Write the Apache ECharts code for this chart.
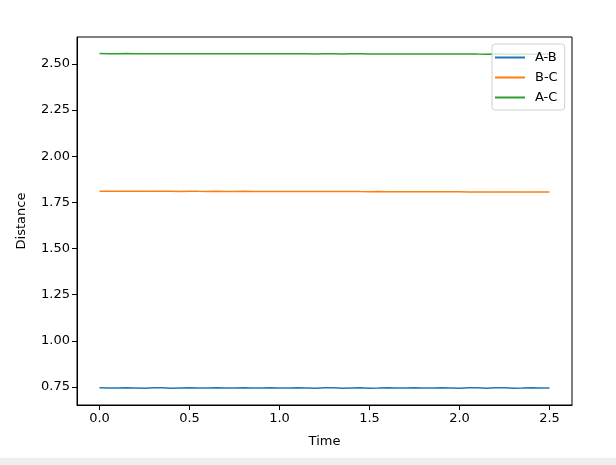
<!DOCTYPE html>
<html><head><meta charset="utf-8">
<script src="https://cdn.jsdelivr.net/npm/echarts@6/dist/echarts.min.js"></script>
<style>html,body{margin:0;padding:0;background:#eeeeee;}#c{width:616px;height:458px;background:#fff;}</style>
</head><body><div id="c"></div>
<script>
const times = [0.00,0.05,0.10,0.15,0.20,0.25,0.30,0.35,0.40,0.45,0.50,0.55,0.60,0.65,0.70,0.75,0.80,0.85,0.90,0.95,1.00,1.05,1.10,1.15,1.20,1.25,1.30,1.35,1.40,1.45,1.50,1.55,1.60,1.65,1.70,1.75,1.80,1.85,1.90,1.95,2.00,2.05,2.10,2.15,2.20,2.25,2.30,2.35,2.40,2.45,2.50];
const abValues = [0.7460,0.7445,0.7440,0.7463,0.7450,0.7437,0.7461,0.7455,0.7436,0.7452,0.7462,0.7440,0.7448,0.7463,0.7441,0.7446,0.7462,0.7443,0.7444,0.7461,0.7447,0.7440,0.7462,0.7451,0.7437,0.7458,0.7457,0.7437,0.7452,0.7462,0.7439,0.7447,0.7463,0.7441,0.7445,0.7462,0.7444,0.7441,0.7461,0.7449,0.7438,0.7459,0.7455,0.7437,0.7453,0.7461,0.7439,0.7448,0.7462,0.7442,0.7444];
const bcValues = [1.8100,1.8105,1.8102,1.8100,1.8106,1.8101,1.8099,1.8104,1.8100,1.8097,1.8102,1.8098,1.8096,1.8100,1.8097,1.8094,1.8098,1.8094,1.8092,1.8096,1.8092,1.8090,1.8093,1.8089,1.8088,1.8091,1.8087,1.8085,1.8088,1.8084,1.8082,1.8085,1.8081,1.8079,1.8082,1.8078,1.8076,1.8078,1.8073,1.8072,1.8074,1.8069,1.8068,1.8070,1.8065,1.8063,1.8065,1.8061,1.8058,1.8060,1.8057];
const acValues = [2.5560,2.5555,2.5558,2.5562,2.5556,2.5554,2.5559,2.5557,2.5552,2.5556,2.5558,2.5552,2.5553,2.5557,2.5551,2.5550,2.5555,2.5551,2.5548,2.5553,2.5550,2.5546,2.5551,2.5549,2.5544,2.5549,2.5548,2.5543,2.5547,2.5547,2.5541,2.5544,2.5545,2.5539,2.5541,2.5543,2.5537,2.5538,2.5541,2.5535,2.5535,2.5539,2.5534,2.5532,2.5536,2.5532,2.5529,2.5533,2.5530,2.5526,2.5528];
const xTicks = [0.0,0.5,1.0,1.5,2.0,2.5];
const yTicks = [0.75,1.00,1.25,1.50,1.75,2.00,2.25,2.50];
const seriesNames = ['A-B','B-C','A-C'];
const colors = ['#1f77b4','#ff7f0e','#2ca02c'];

const chart = echarts.init(document.getElementById('c'), null, {renderer:'canvas'});
const font = 'DejaVu Sans';
const mk = (name, vals, color) => ({
  name, type:'line', data: times.map((t,i)=>[t, vals[i]]),
  showSymbol:false, symbol:'none', smooth:false,
  lineStyle:{color, width:1.5}, itemStyle:{color}, animation:false
});
chart.setOption({
  animation:false,
  textStyle:{fontFamily:font},
  grid:{left:77,right:44,top:37,bottom:53,show:true,borderColor:'#000',borderWidth:1,backgroundColor:'transparent'},
  legend:{
    data:seriesNames.map((n,i)=>({name:n, icon:'rect', itemStyle:{color:colors[i]}})),
    orient:'vertical', left:492, top:44,
    itemWidth:30, itemHeight:2, itemGap:7,
    padding:[7,7,6,3],
    backgroundColor:'rgba(255,255,255,0.8)', borderColor:'#d0d0d0', borderWidth:1, borderRadius:3,
    textStyle:{fontFamily:font, fontSize:13, color:'#000', padding:[0,0,0,5]}
  },
  xAxis:{
    type:'value', min:-0.125, max:2.625,
    name:'Time', nameLocation:'middle', nameGap:30,
    nameTextStyle:{fontFamily:font,fontSize:13,color:'#000'},
    axisLine:{show:true,onZero:false,lineStyle:{color:'#000',width:1}},
    axisTick:{show:true,length:5,inside:false,customValues:xTicks,lineStyle:{color:'#000'}},
    axisLabel:{customValues:xTicks,fontFamily:font,fontSize:13,color:'#000',margin:7,formatter:v=>v.toFixed(1)},
    splitLine:{show:false}
  },
  yAxis:{
    type:'value', min:0.6525, max:2.646,
    name:'Distance', nameLocation:'middle', nameGap:49, nameRotate:90,
    nameTextStyle:{fontFamily:font,fontSize:13,color:'#000'},
    axisLine:{show:true,onZero:false,lineStyle:{color:'#000',width:1}},
    axisTick:{show:true,length:5,inside:false,customValues:yTicks,lineStyle:{color:'#000'}},
    axisLabel:{customValues:yTicks,fontFamily:font,fontSize:13,color:'#000',margin:7,formatter:v=>v.toFixed(2)},
    splitLine:{show:false}
  },
  series:[mk(seriesNames[0],abValues,colors[0]),mk(seriesNames[1],bcValues,colors[1]),mk(seriesNames[2],acValues,colors[2])]
});
</script></body></html>
